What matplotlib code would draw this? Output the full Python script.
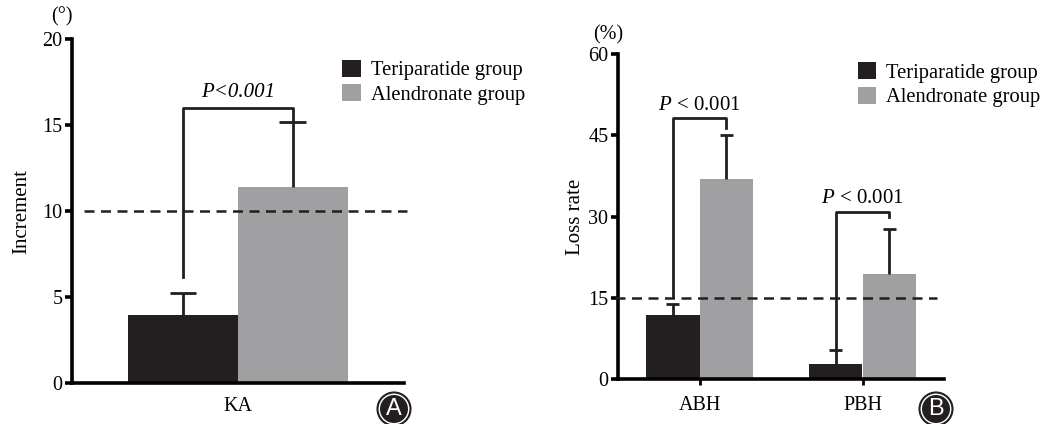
import matplotlib
matplotlib.use("Agg")
import matplotlib.pyplot as plt
from matplotlib.patches import Ellipse

plt.rcParams['font.family'] = ['Liberation Serif', 'DejaVu Serif']
plt.rcParams['mathtext.fontset'] = 'custom'
plt.rcParams['mathtext.rm'] = 'Liberation Serif'
plt.rcParams['mathtext.it'] = 'Liberation Serif:italic'

# ---------------- data ----------------
groups = ["Teriparatide group", "Alendronate group"]
colors = ["#231f20", "#a0a0a3"]

# Panel A
a_categories = ["KA"]
a_teri = [3.95]
a_teri_err = [1.3]
a_alen = [11.4]
a_alen_err = [3.75]
a_threshold = 10
a_yticks = [0, 5, 10, 15, 20]
a_bracket = dict(left_y=6.15, top=16.0, right_y=15.2, label="P<0.001")

# Panel B
b_categories = ["ABH", "PBH"]
b_teri = [11.9, 2.8]
b_teri_err = [1.9, 2.55]
b_alen = [36.9, 19.4]
b_alen_err = [8.1, 8.3]
b_threshold = 15
b_yticks = [0, 15, 30, 45, 60]
b_brackets = [dict(left_y=15.2, top=48.2, right_y=46.3),
              dict(left_y=5.4, top=30.9, right_y=29.9)]
b_label = "$P$ < 0.001"

W, H = 1043, 424
fig = plt.figure(figsize=(W / 100, H / 100), dpi=100)

def fx(px):
    return px / W

def fy(py):
    return 1 - py / H

axA = fig.add_axes([fx(72), fy(383), fx(404 - 72), (383 - 39) / H])
axB = fig.add_axes([fx(618), fy(379), fx(944 - 618), (379 - 54) / H])

bw = 0.33
lw_axis = 2.6
ink = "#231f20"

def style(ax, ylim, yticks):
    for s in ["top", "right"]:
        ax.spines[s].set_visible(False)
    ax.spines["left"].set_linewidth(lw_axis)
    ax.spines["bottom"].set_linewidth(lw_axis)
    ax.spines["left"].set_bounds(ylim[0], ylim[1])
    ax.set_ylim(ylim)
    ax.set_yticks(yticks)
    ax.tick_params(axis="y", length=5, width=lw_axis, labelsize=14.5, pad=2)
    ax.tick_params(axis="x", labelsize=14.5)

def upper_err(ax, xs, ys, errs, capw):
    for x, y, e in zip(xs, ys, errs):
        ax.vlines(x, y, y + e, color=ink, lw=2, zorder=3)
        ax.hlines(y + e, x - capw / 2, x + capw / 2, color=ink, lw=2, zorder=3)

# ---------- Panel A ----------
xA = list(range(len(a_categories)))
xt = [x - bw / 2 for x in xA]
xa = [x + bw / 2 for x in xA]
axA.bar(xt, a_teri, bw, color=colors[0], label=groups[0], zorder=2)
axA.bar(xa, a_alen, bw, color=colors[1], label=groups[1], zorder=2)
upper_err(axA, xt, a_teri, a_teri_err, 0.08)
upper_err(axA, xa, a_alen, a_alen_err, 0.08)
axA.axhline(a_threshold, xmin=0.035, xmax=1.01, color=ink, ls=(0, (4, 2.6)),
            lw=1.8, zorder=4, clip_on=False)
axA.set_xlim(-0.5, 0.5)
style(axA, (0, 20), a_yticks)
axA.set_xticks(xA)
axA.set_xticklabels(a_categories)
axA.tick_params(axis="x", length=0, pad=10)
axA.plot([xt[0], xt[0], xa[0], xa[0]],
         [a_bracket["left_y"], a_bracket["top"], a_bracket["top"], a_bracket["right_y"]],
         color=ink, lw=2, zorder=5, clip_on=False)
axA.text(xA[0], a_bracket["top"] + 0.35, a_bracket["label"], ha="center", va="bottom",
         fontsize=15, style="italic")
axA.set_ylabel("Increment", fontsize=15, labelpad=8)
axA.text(-0.03, 1.035, "(°)", transform=axA.transAxes, ha="center", va="bottom", fontsize=14.5)
axA.legend(loc="upper left", bbox_to_anchor=(0.814, 0.94), frameon=False,
           fontsize=14.8, handlelength=0.9, handleheight=0.9, handletextpad=0.5,
           labelspacing=0.2, borderaxespad=0, borderpad=0)

# ---------- Panel B ----------
xB = list(range(len(b_categories)))
xt = [x - bw / 2 for x in xB]
xa = [x + bw / 2 for x in xB]
axB.bar(xt, b_teri, bw, color=colors[0], label=groups[0], zorder=2)
axB.bar(xa, b_alen, bw, color=colors[1], label=groups[1], zorder=2)
upper_err(axB, xt, b_teri, b_teri_err, 0.075)
upper_err(axB, xa, b_alen, b_alen_err, 0.075)
axB.axhline(b_threshold, xmin=-0.01, xmax=0.98, color=ink, ls=(0, (4, 2.6)),
            lw=1.8, zorder=4, clip_on=False)
axB.set_xlim(-0.5, 1.5)
style(axB, (0, 60), b_yticks)
axB.set_xticks(xB)
axB.set_xticklabels(b_categories)
axB.tick_params(axis="x", length=4, width=2, pad=8)
for i, br in enumerate(b_brackets):
    axB.plot([xt[i], xt[i], xa[i], xa[i]],
             [br["left_y"], br["top"], br["top"], br["right_y"]],
             color=ink, lw=2, zorder=5, clip_on=False)
    axB.text(xB[i], br["top"] + 0.6, b_label, ha="center", va="bottom", fontsize=15)
axB.set_ylabel("Loss rate", fontsize=15, labelpad=2)
axB.text(-0.03, 1.03, "(%)", transform=axB.transAxes, ha="center", va="bottom", fontsize=14.5)
axB.legend(loc="upper left", bbox_to_anchor=(0.735, 0.975), frameon=False,
           fontsize=14.8, handlelength=0.9, handleheight=0.9, handletextpad=0.5,
           labelspacing=0.2, borderaxespad=0, borderpad=0)

# ---------- panel badges ----------
for (cx, cy, letter) in [(394, 409, "A"), (936, 409, "B")]:
    r = 16.5
    fig.patches.append(Ellipse((fx(cx), fy(cy)), 2 * r / W, 2 * r / H,
                               transform=fig.transFigure, fc="white", ec=ink, lw=1.5))
    r2 = 14
    fig.patches.append(Ellipse((fx(cx), fy(cy)), 2 * r2 / W, 2 * r2 / H,
                               transform=fig.transFigure, fc=ink, ec="none"))
    fig.text(fx(cx), fy(cy), letter, ha="center", va="center", color="white",
             fontsize=17, family="Liberation Sans")

fig.savefig("out.png", dpi=100)
